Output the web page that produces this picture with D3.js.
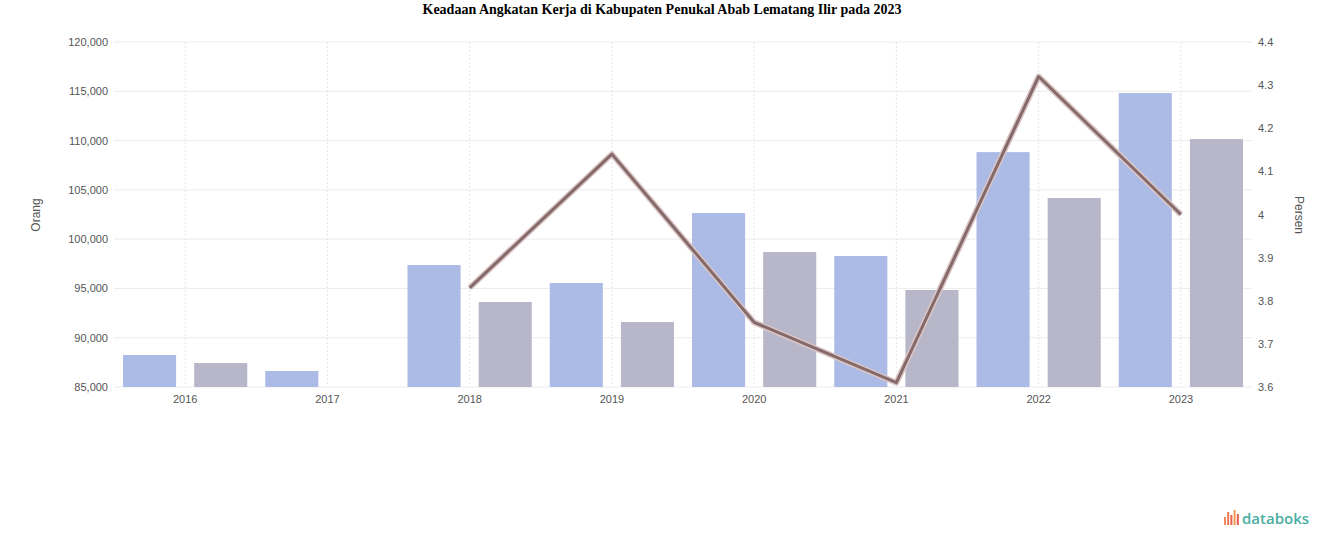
<!DOCTYPE html>
<html>
<head>
<meta charset="utf-8">
<script src="https://cdn.jsdelivr.net/npm/d3@7"></script>
<style>
  html, body { margin: 0; padding: 0; background: #fff; }
  svg { display: block; }
</style>
</head>
<body>
<svg id="chart" width="1324" height="547"></svg>
<script>
// ---- Data ----
const categories = ["2016", "2017", "2018", "2019", "2020", "2021", "2022", "2023"];
const angkatanKerja = [88250, 86620, 97370, 95550, 102650, 98290, 108830, 114820];
const bekerja = [87430, null, 93620, 91590, 98690, 94840, 104170, 110150];
const tpt = [null, null, 3.83, 4.14, 3.75, 3.61, 4.32, 4.0];
const leftTicks = [85000, 90000, 95000, 100000, 105000, 110000, 115000, 120000];
const rightTicks = [3.6, 3.7, 3.8, 3.9, 4.0, 4.1, 4.2, 4.3, 4.4];
const titleText = "Keadaan Angkatan Kerja di Kabupaten Penukal Abab Lematang Ilir pada 2023";
const leftTitle = "Orang";
const rightTitle = "Persen";

// ---- Layout ----
const svg = d3.select("#chart");
const M = { left: 114, right: 1252, top: 42, bottom: 387 };

const x0 = d3.scaleBand().domain(categories).range([M.left, M.right]).padding(0);
const x1 = d3.scaleBand().domain(["ak", "bk"]).range([9, x0.bandwidth() - 9]).paddingInner(0.254).paddingOuter(0);
const yL = d3.scaleLinear().domain([85000, 120000]).range([M.bottom, M.top]);
const yR = d3.scaleLinear().domain([3.6, 4.4]).range([M.bottom, M.top]);

// Title
svg.append("text")
  .attr("x", 662).attr("y", 14)
  .attr("text-anchor", "middle")
  .attr("font-family", "'Liberation Serif', 'Times New Roman', serif")
  .attr("font-weight", "bold").attr("font-size", 14)
  .attr("fill", "#000")
  .text(titleText);

// Horizontal gridlines
svg.append("g").selectAll("line").data(leftTicks).join("line")
  .attr("x1", M.left).attr("x2", M.right)
  .attr("y1", d => yL(d)).attr("y2", d => yL(d))
  .attr("stroke", "#ececec").attr("stroke-width", 1);

// Vertical gridlines at category centres
svg.append("g").selectAll("line").data(categories).join("line")
  .attr("x1", d => x0(d) + x0.bandwidth() / 2).attr("x2", d => x0(d) + x0.bandwidth() / 2)
  .attr("y1", M.top).attr("y2", M.bottom)
  .attr("stroke", "#e6e6e6").attr("stroke-width", 1).attr("stroke-dasharray", "2,2");

// Bars
const g = svg.append("g");
const groups = g.selectAll("g").data(categories).join("g")
  .attr("transform", d => `translate(${x0(d)},0)`);
groups.append("rect")
  .attr("x", x1("ak")).attr("width", x1.bandwidth())
  .attr("y", (d, i) => yL(angkatanKerja[i]))
  .attr("height", (d, i) => yL.range()[0] - yL(angkatanKerja[i]))
  .attr("fill", "#abbbe6");
groups.filter((d, i) => bekerja[i] != null).append("rect")
  .attr("x", x1("bk")).attr("width", x1.bandwidth())
  .attr("y", d => yL(bekerja[categories.indexOf(d)]))
  .attr("height", d => yL.range()[0] - yL(bekerja[categories.indexOf(d)]))
  .attr("fill", "#b7b7c9");

// Line (right axis)
const lineData = categories.map((c, i) => ({ c, v: tpt[i] })).filter(d => d.v != null);
const line = d3.line()
  .x(d => x0(d.c) + x0.bandwidth() / 2)
  .y(d => yR(d.v));
svg.append("path").datum(lineData)
  .attr("d", line).attr("fill", "none")
  .attr("stroke", "#dcc6c6").attr("stroke-width", 6).attr("stroke-linejoin", "round");
svg.append("path").datum(lineData)
  .attr("d", line).attr("fill", "none")
  .attr("stroke", "#846a6a").attr("stroke-width", 3).attr("stroke-linejoin", "round");

// Axes
const fmtL = d3.format(",");
const axisL = d3.axisLeft(yL).tickValues(leftTicks).tickFormat(fmtL).tickSize(0).tickPadding(6);
const gL = svg.append("g").attr("transform", `translate(${M.left},0)`).call(axisL);
gL.select(".domain").remove();
gL.selectAll("text").attr("font-family", "'Liberation Sans', Arial, sans-serif").attr("font-size", 11).attr("fill", "#555");

const fmtR = d => d3.format("~g")(+d.toFixed(1));
const axisR = d3.axisRight(yR).tickValues(rightTicks).tickFormat(fmtR).tickSize(0).tickPadding(6);
const gR = svg.append("g").attr("transform", `translate(${M.right},0)`).call(axisR);
gR.select(".domain").remove();
gR.selectAll("text").attr("font-family", "'Liberation Sans', Arial, sans-serif").attr("font-size", 11).attr("fill", "#555");

const axisB = d3.axisBottom(x0).tickSize(0).tickPadding(8);
const gB = svg.append("g").attr("transform", `translate(0,${M.bottom})`).call(axisB);
gB.select(".domain").remove();
gB.selectAll("text").attr("font-family", "'Liberation Sans', Arial, sans-serif").attr("font-size", 11).attr("fill", "#555");

// Axis titles
svg.append("text")
  .attr("transform", "translate(40,215) rotate(-90)")
  .attr("text-anchor", "middle")
  .attr("font-family", "'Liberation Sans', Arial, sans-serif").attr("font-size", 12).attr("fill", "#555")
  .text(leftTitle);
svg.append("text")
  .attr("transform", "translate(1295,215) rotate(90)")
  .attr("text-anchor", "middle")
  .attr("font-family", "'Liberation Sans', Arial, sans-serif").attr("font-size", 12).attr("fill", "#555")
  .text(rightTitle);

// databoks logo
const logo = svg.append("g").attr("transform", "translate(1224,510)");
const barsH = [8, 13, 10, 15, 11];
const barsC = ["#f08a5d", "#ee7752", "#e9634a", "#f29a52", "#e85a4f"];
logo.selectAll("rect").data(barsH).join("rect")
  .attr("x", (d, i) => i * 3.2).attr("y", d => 15 - d)
  .attr("width", 2).attr("height", d => d)
  .attr("fill", (d, i) => barsC[i]);
logo.append("text")
  .attr("x", 18).attr("y", 14)
  .attr("font-family", "'Open Sans', 'DejaVu Sans', sans-serif").attr("font-weight", 600)
  .attr("font-size", 15).attr("fill", "#4aaea2")
  .text("databoks");
</script>
</body>
</html>
